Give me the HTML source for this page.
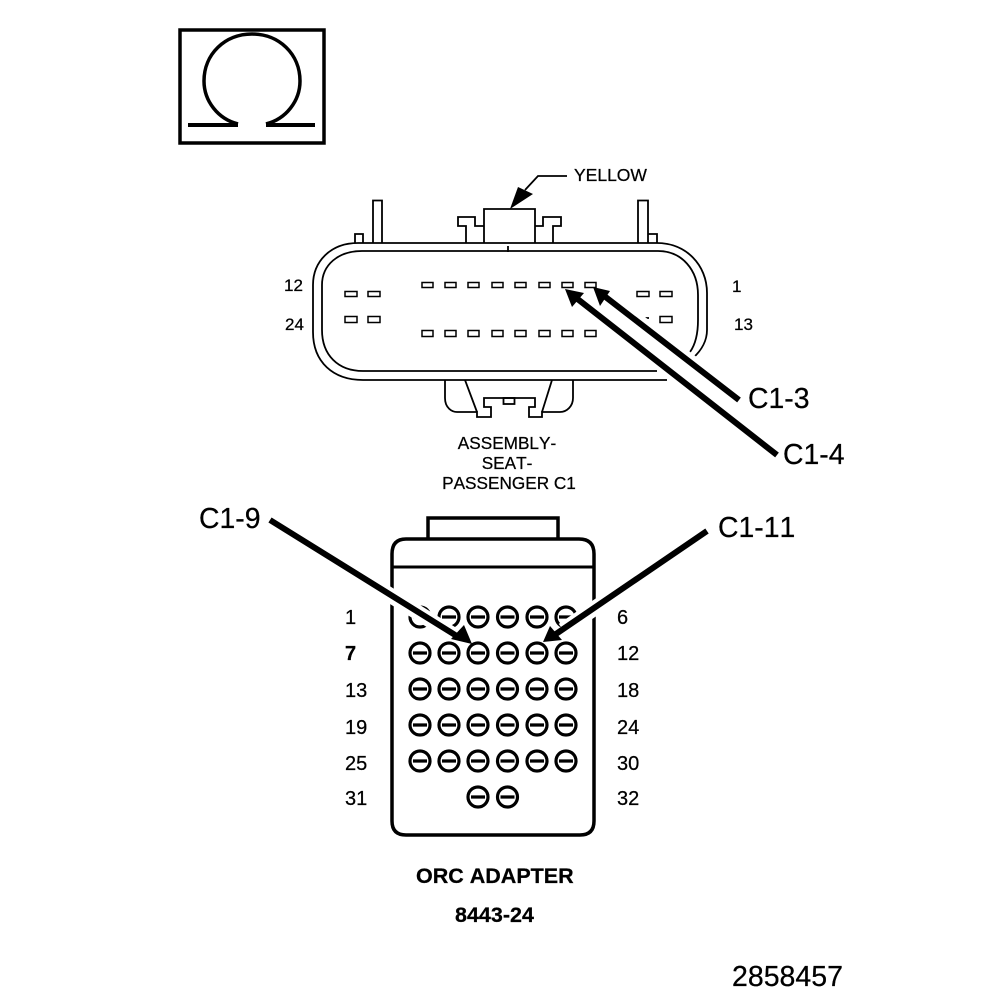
<!DOCTYPE html>
<html><head><meta charset="utf-8"><style>
html,body{margin:0;padding:0;background:#fff}
svg{display:block}
text{font-family:"Liberation Sans",sans-serif;fill:#000;font-kerning:none;stroke:#000;stroke-width:.25}
.t{font-size:17.500px}
.b{font-size:21.500px;font-weight:bold}
.c{font-size:28.400px}
.n{font-size:20px}
.s{font-size:17px}
</style></head><body>
<svg width="1008" height="1000" viewBox="0 0 1008 1000" xmlns="http://www.w3.org/2000/svg">
<rect width="1008" height="1000" fill="#fff"/>
<!-- omega -->
<rect x="180" y="30" width="144" height="113" fill="none" stroke="#000" stroke-width="3.500"/>
<path d="M238 124C218 119 204 101 204 81C204 54 225 34 252 34C279 34 300 54 300 81C300 101 286 119 266 124" fill="none" stroke="#000" stroke-width="3.500"/>
<path d="M188 125H238M266 125H315" stroke="#000" stroke-width="4" fill="none"/>
<!-- connector -->
<g fill="none" stroke="#000" stroke-width="1.800">
<path d="M667 380H363C333 380 313 362 313 332V285C313 262 330 243 358 243H657C686 243 707 265 707 293V330C707 340 702 350 693 358"/>
<path d="M657 371H363C338 371 322 355 322 330V285C322 265 338 251 362 251H658C682 251 698 270 698 295V320C698 335 695 345 690 352"/>
<path d="M373 243V200.500H382V243M638 243V200.500H648V243"/>
<path d="M355 243V234H363V243M648 234H657V243"/>
<path d="M484 243V209H535V243"/>
<path d="M484 226H475V217H458V226H466V243"/>
<path d="M535 226H543V217H561V226H553V243"/>
<path d="M445 380V398C445 408 452 412 457 412H477V417H491V407H484V398H535V407H529V417H542V412H560C567 412 573 406 573 398V380"/>
<path d="M465 380L477 412M552 380L542 412"/>
<rect x="503.500" y="398" width="11" height="6"/>
<path d="M508 246V252M645 318H649"/>
</g>
<g fill="none" stroke="#000" stroke-width="1.500">
<rect x="422" y="282.500" width="11" height="5"/><rect x="445" y="282.500" width="11" height="5"/><rect x="468" y="282.500" width="11" height="5"/><rect x="492" y="282.500" width="11" height="5"/><rect x="515" y="282.500" width="11" height="5"/><rect x="539" y="282.500" width="11" height="5"/><rect x="562" y="282.500" width="11" height="5"/><rect x="585" y="282.500" width="11" height="5"/>
<rect x="422" y="330.500" width="11" height="6"/><rect x="445" y="330.500" width="11" height="6"/><rect x="468" y="330.500" width="11" height="6"/><rect x="492" y="330.500" width="11" height="6"/><rect x="515" y="330.500" width="11" height="6"/><rect x="539" y="330.500" width="11" height="6"/><rect x="562" y="330.500" width="11" height="6"/><rect x="585" y="330.500" width="11" height="6"/>
<rect x="345" y="291.500" width="12" height="5"/><rect x="368" y="291.500" width="12" height="5"/><rect x="345" y="316.500" width="12" height="6"/><rect x="368" y="316.500" width="12" height="6"/>
<rect x="637" y="291.500" width="12" height="5"/><rect x="660" y="291.500" width="12" height="5"/><rect x="660" y="316.500" width="12" height="6"/>
</g>
<!-- yellow leader -->
<path d="M567 176H538L525 190" fill="none" stroke="#000" stroke-width="1.800"/>
<path d="M510 209L518 187L533 194Z" fill="#000"/>
<!-- adapter -->
<path d="M428 538V518H558V538" fill="none" stroke="#000" stroke-width="3.500"/>
<path d="M406 539H579Q594 539 594 554V821Q594 835 580 835H406Q392 835 392 821V554Q392 539 406 539Z" fill="#fff" stroke="#000" stroke-width="3.500"/>
<path d="M392 567H594" stroke="#000" stroke-width="3"/>
<g fill="none" stroke="#000" stroke-width="3.200">
<circle cx="420" cy="617" r="10"/><circle cx="449" cy="617" r="10"/><circle cx="478" cy="617" r="10"/><circle cx="507.500" cy="617" r="10"/><circle cx="537" cy="617" r="10"/><circle cx="566" cy="617" r="10"/>
<circle cx="420" cy="653" r="10"/><circle cx="449" cy="653" r="10"/><circle cx="478" cy="653" r="10"/><circle cx="507.500" cy="653" r="10"/><circle cx="537" cy="653" r="10"/><circle cx="566" cy="653" r="10"/>
<circle cx="420" cy="689" r="10"/><circle cx="449" cy="689" r="10"/><circle cx="478" cy="689" r="10"/><circle cx="507.500" cy="689" r="10"/><circle cx="537" cy="689" r="10"/><circle cx="566" cy="689" r="10"/>
<circle cx="420" cy="725" r="10"/><circle cx="449" cy="725" r="10"/><circle cx="478" cy="725" r="10"/><circle cx="507.500" cy="725" r="10"/><circle cx="537" cy="725" r="10"/><circle cx="566" cy="725" r="10"/>
<circle cx="420" cy="761" r="10"/><circle cx="449" cy="761" r="10"/><circle cx="478" cy="761" r="10"/><circle cx="507.500" cy="761" r="10"/><circle cx="537" cy="761" r="10"/><circle cx="566" cy="761" r="10"/>
<circle cx="478" cy="797" r="10"/><circle cx="507.500" cy="797" r="10"/>
<path d="M413 617h14M442 617h14M471 617h14M500.500 617h14M530 617h14M559 617h14M413 653h14M442 653h14M471 653h14M500.500 653h14M530 653h14M559 653h14M413 689h14M442 689h14M471 689h14M500.500 689h14M530 689h14M559 689h14M413 725h14M442 725h14M471 725h14M500.500 725h14M530 725h14M559 725h14M413 761h14M442 761h14M471 761h14M500.500 761h14M530 761h14M559 761h14M471 797h14M500.500 797h14"/>
</g>
<!-- arrow halos -->
<g stroke="#fff" stroke-width="15" fill="none">
<path d="M270 520L452 634M707 531L563 630"/>
<path d="M740 400L612 301M777 455L585 304"/>
</g>
<!-- arrows -->
<g stroke="#000" stroke-width="6" fill="none">
<path d="M270 520L460 638M707 531L553 636"/>
<path d="M739 400L603 295M777 455L575 297"/>
</g>
<g fill="#000">
<path d="M472 644L451 639L464 625Z"/>
<path d="M543 642L550 626L562 640Z"/>
<path d="M593 287L610 291L600 306Z"/>
<path d="M565 289L584 293L572 307Z"/>
</g>
<!-- labels -->
<text class="t" x="574" y="181">YELLOW</text>
<text class="s" x="284" y="291">12</text>
<text class="s" x="285" y="330">24</text>
<text class="s" x="732" y="292">1</text>
<text class="s" x="734" y="330">13</text>
<text class="c" x="748" y="408">C1-3</text>
<text class="c" x="783" y="464">C1-4</text>
<text class="c" x="199" y="528">C1-9</text>
<text class="c" x="718" y="537">C1-11</text>
<g text-anchor="middle" style="font-size:17.200px">
<text x="507" y="449">ASSEMBLY-</text>
<text x="507" y="469">SEAT-</text>
<text x="509" y="489">PASSENGER C1</text>
</g>
<text class="n" x="345" y="624">1</text>
<text class="n" x="345" y="660" font-weight="bold">7</text>
<text class="n" x="345" y="697">13</text>
<text class="n" x="345" y="734">19</text>
<text class="n" x="345" y="770">25</text>
<text class="n" x="345" y="805">31</text>
<text class="n" x="617" y="624">6</text>
<text class="n" x="617" y="660">12</text>
<text class="n" x="617" y="697">18</text>
<text class="n" x="617" y="734">24</text>
<text class="n" x="617" y="770">30</text>
<text class="n" x="617" y="805">32</text>
<text class="b" x="416" y="883">ORC ADAPTER</text>
<text class="b" x="455" y="922">8443-24</text>
<text x="732" y="986" style="font-size:28.500px">2858457</text>
</svg>
</body></html>
